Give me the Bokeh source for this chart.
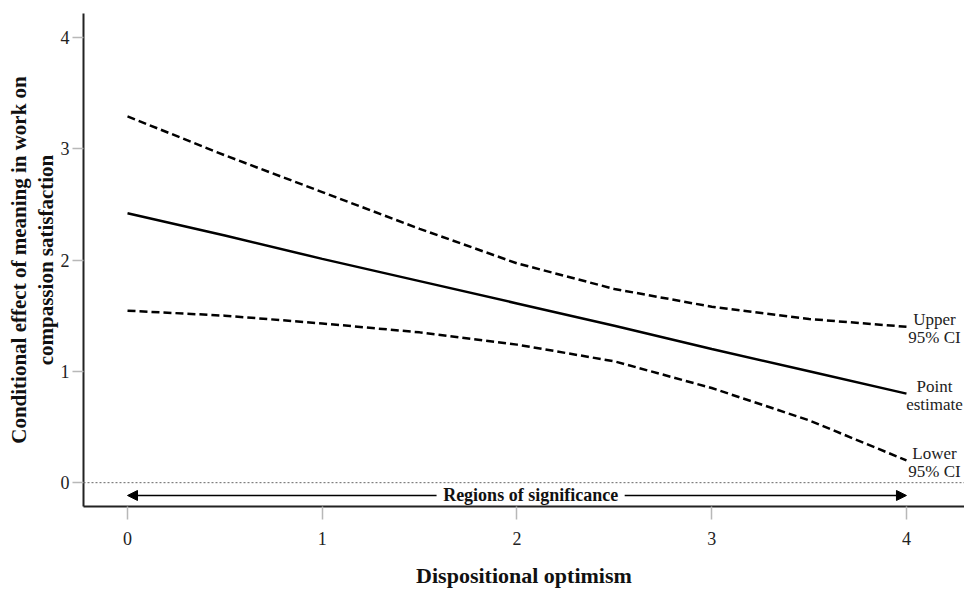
from bokeh.plotting import figure
from bokeh.models import Range1d, Span, Arrow, NormalHead, Label, FixedTicker, ColumnDataSource
from bokeh.core.properties import value
from bokeh.embed import file_html
from bokeh.resources import INLINE

# ---- data ----
optimism = [0, 0.5, 1, 1.5, 2, 2.5, 3, 3.5, 4]
point_estimate = [2.42, 2.22, 2.01, 1.81, 1.61, 1.41, 1.20, 1.00, 0.80]
upper_ci = [3.29, 2.94, 2.61, 2.28, 1.97, 1.74, 1.58, 1.47, 1.40]
lower_ci = [1.545, 1.50, 1.43, 1.35, 1.24, 1.09, 0.85, 0.56, 0.20]
x_ticks = [0, 1, 2, 3, 4]
y_ticks = [0, 1, 2, 3, 4]
end_labels = ["Upper\n95% CI", "Point\nestimate", "Lower\n95% CI"]
region_label = "Regions of significance"
region_level = -0.115
region_label_x = 2.07
region_gap = 0.483
x_title = "Dispositional optimism"
y_title = "Conditional effect of meaning in work on\ncompassion satisfaction"

FONT = "Liberation Serif"

p = figure(width=964, height=590, output_backend="svg", toolbar_location=None,
           x_range=Range1d(-0.226, 4.298), y_range=Range1d(-0.214, 4.214),
           min_border_left=83, min_border_right=0, min_border_top=13, min_border_bottom=81)
p.outline_line_color = None
p.xgrid.visible = False
p.ygrid.visible = False
p.background_fill_color = "white"
p.border_fill_color = "white"

for ax in (p.xaxis[0], p.yaxis[0]):
    ax.axis_line_color = "#222222"
    ax.axis_line_width = 2
    ax.major_tick_line_color = "#b8b8b8"
    ax.major_tick_line_width = 1.5
    ax.major_tick_in = 0
    ax.minor_tick_line_color = None
    ax.major_label_text_font = FONT
    ax.major_label_text_font_size = "18px"
    ax.major_label_text_color = "#222222"
    ax.axis_label_text_font = FONT
    ax.axis_label_text_font_style = "bold"
    ax.axis_label_text_color = "#111111"

p.xaxis.ticker = FixedTicker(ticks=x_ticks)
p.yaxis.ticker = FixedTicker(ticks=y_ticks)
p.xaxis.major_tick_out = 13
p.xaxis.major_label_standoff = 12
p.yaxis.major_tick_out = 11
p.yaxis.major_label_standoff = 3
p.xaxis.axis_label = x_title
p.xaxis.axis_label_text_font_size = "22px"
p.xaxis.axis_label_standoff = 15
p.yaxis.axis_label = y_title
p.yaxis.axis_label_text_font_size = "21px"
p.yaxis.axis_label_text_line_height = 1.1
p.yaxis.axis_label_standoff = 0

# zero reference line
p.add_layout(Span(location=0, dimension="width", line_color="#666666",
                  line_width=1, line_dash="2 2"))

# series
p.line(optimism, upper_ci, line_color="black", line_width=2.5, line_dash="8 4")
p.line(optimism, lower_ci, line_color="black", line_width=2.5, line_dash="8 4")
p.line(optimism, point_estimate, line_color="black", line_width=2.5)

# end labels
src = ColumnDataSource(dict(x=[optimism[-1]] * 3,
                            y=[upper_ci[-1], point_estimate[-1], lower_ci[-1]],
                            t=end_labels))
p.text(x="x", y="y", text="t", source=src, x_offset=28, y_offset=2,
       text_font=value(FONT), text_font_size="17px", text_color="#222222",
       text_align="center", text_baseline="middle", text_line_height=0.95)

# regions of significance arrows (split around the label)
head = dict(size=10, fill_color="black", line_color="black")
p.add_layout(Arrow(x_start=region_label_x - region_gap, y_start=region_level,
                   x_end=optimism[0], y_end=region_level,
                   line_color="black", line_width=1.3, end=NormalHead(**head)))
p.add_layout(Arrow(x_start=region_label_x + region_gap, y_start=region_level,
                   x_end=optimism[-1], y_end=region_level,
                   line_color="black", line_width=1.3, end=NormalHead(**head)))
p.add_layout(Label(x=region_label_x, y=region_level, text=region_label,
                   text_align="center", text_baseline="middle",
                   text_font=FONT, text_font_style="bold", text_font_size="18px",
                   text_color="#111111"))

open("out.html", "w").write(file_html(p, INLINE))
